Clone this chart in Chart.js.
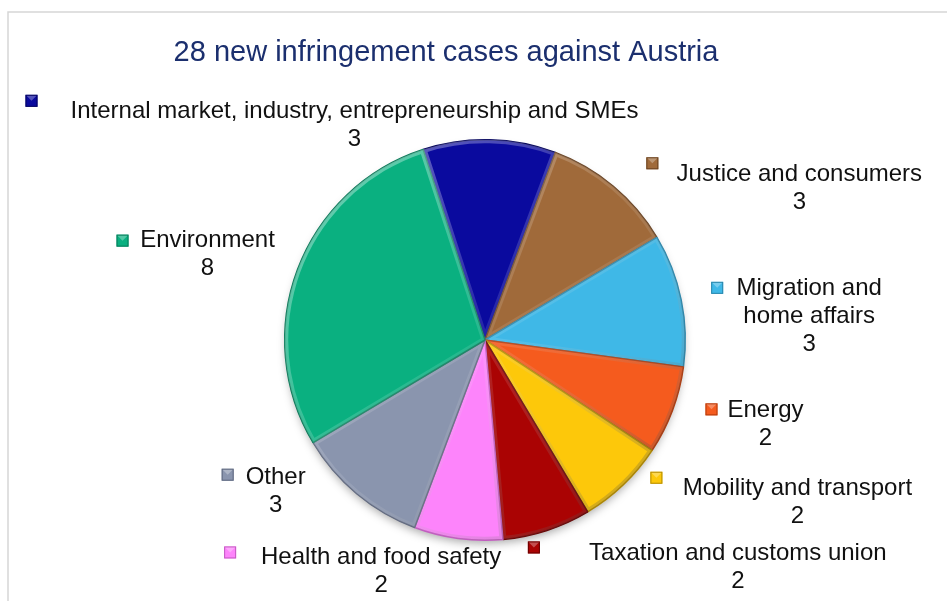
<!DOCTYPE html>
<html>
<head>
<meta charset="utf-8">
<title>Infringement cases</title>
<script src="https://cdn.jsdelivr.net/npm/chart.js@4.4.1/dist/chart.umd.min.js"></script>
<style>
    html, body { margin: 0; padding: 0; background: #ffffff; }
    #wrap { position: relative; width: 947px; height: 601px; }
</style>
</head>
<body>
<div id="wrap"><canvas id="ChartCasos" width="947" height="601"></canvas></div>
<script>
const titulo = '28 new infringement cases against Austria';

const categorias = [
    ['Internal market, industry, entrepreneurship and SMEs'],
    ['Justice and consumers'],
    ['Migration and', 'home affairs'],
    ['Energy'],
    ['Mobility and transport'],
    ['Taxation and customs union'],
    ['Health and food safety'],
    ['Other'],
    ['Environment']
];

const casos = [3, 3, 3, 2, 2, 2, 2, 3, 8];

const colores = ['#0a0a9e', '#a06a3a', '#3fb8e7', '#f55b1e', '#fdc80a', '#aa0303', '#fd84fb', '#8a95ae', '#0ab080'];
const bordes = ['#05055e', '#6a4322', '#2a86ab', '#b23c0e', '#b58c00', '#6a0000', '#c45ac2', '#5e677e', '#067a58'];

// where each label sits, measured from the outer middle of its slice; marker relative to the text
const posEtiquetas = [
    { dx: -135, dy: -28, mx: -323, my: -11 },
    { dx: 186, dy: -12, mx: -147, my: -11 },
    { dx: 128, dy: -11, mx: -92, my: -1 },
    { dx: 93, dy: 0, mx: -54, my: -1 },
    { dx: 174, dy: 4, mx: -141, my: -11 },
    { dx: 191, dy: 23, mx: -204, my: -6 },
    { dx: -77, dy: 19, mx: -151, my: -5 },
    { dx: -81, dy: -16, mx: -48, my: -3 },
    { dx: -90, dy: -29, mx: -85, my: 0 }
];

const fuente = '"Liberation Sans", Arial, sans-serif';

const marco = {
    id: 'marco',
    beforeDraw(chart) {
        const c = chart.ctx;
        c.save();
        c.fillStyle = '#ffffff';
        c.fillRect(0, 0, chart.width, chart.height);
        c.strokeStyle = '#d6d6d6';
        c.lineWidth = 1.5;
        c.beginPath();
        c.moveTo(8, chart.height + 2);
        c.lineTo(8, 12);
        c.lineTo(chart.width + 2, 12);
        c.stroke();

        c.fillStyle = '#1b2f6e';
        c.font = '29px ' + fuente;
        c.textAlign = 'center';
        c.textBaseline = 'middle';
        c.fillText(titulo, 446, 53);
        c.restore();
    },
    beforeDatasetsDraw(chart) {
        // soft shadow under the pie
        const arc = chart.getDatasetMeta(0).data[0];
        const c = chart.ctx;
        c.save();
        c.shadowColor = 'rgba(0,0,0,0.35)';
        c.shadowBlur = 10;
        c.shadowOffsetY = 5;
        c.fillStyle = '#ffffff';
        c.beginPath();
        c.arc(arc.x, arc.y, arc.outerRadius - 2, 0, Math.PI * 2);
        c.fill();
        c.restore();
    }
};

// light/dark inner edge on every slice for the bevel look
const bisel = {
    id: 'bisel',
    afterDatasetsDraw(chart) {
        const c = chart.ctx;
        chart.getDatasetMeta(0).data.forEach(arc => {
            const r = arc.outerRadius;
            c.save();
            c.beginPath();
            c.moveTo(arc.x, arc.y);
            c.arc(arc.x, arc.y, r, arc.startAngle, arc.endAngle);
            c.closePath();
            c.clip();
            const g = c.createLinearGradient(arc.x - r, arc.y - r, arc.x + r, arc.y + r);
            g.addColorStop(0, 'rgba(255,255,255,0.45)');
            g.addColorStop(0.5, 'rgba(255,255,255,0.1)');
            g.addColorStop(1, 'rgba(0,0,0,0.3)');
            c.strokeStyle = g;
            c.lineWidth = 7;
            c.lineJoin = 'round';
            c.stroke();
            c.restore();
        });
    }
};

const etiquetas = {
    id: 'etiquetas',
    afterDatasetsDraw(chart) {
        const c = chart.ctx;
        const arcs = chart.getDatasetMeta(0).data;
        c.save();
        c.font = '24px ' + fuente;
        c.textAlign = 'center';
        c.textBaseline = 'middle';
        arcs.forEach((arc, i) => {
            const medio = (arc.startAngle + arc.endAngle) / 2;
            const ax = arc.x + Math.cos(medio) * arc.outerRadius;
            const ay = arc.y + Math.sin(medio) * arc.outerRadius;
            const p = posEtiquetas[i];
            const tx = ax + p.dx;
            const ty = ay + p.dy;
            const lineas = categorias[i].concat([String(casos[i])]);
            c.fillStyle = '#111111';
            lineas.forEach((linea, k) => {
                c.fillText(linea, tx, ty + k * 28);
            });

            // small bevelled legend key
            const mx = tx + p.mx - 6;
            const my = ty + p.my - 6;
            c.fillStyle = colores[i];
            c.fillRect(mx, my, 12, 12);
            c.fillStyle = 'rgba(255,255,255,0.3)';
            c.beginPath();
            c.moveTo(mx, my);
            c.lineTo(mx + 12, my);
            c.lineTo(mx + 6, my + 6);
            c.closePath();
            c.fill();
            c.strokeStyle = bordes[i];
            c.lineWidth = 1;
            c.strokeRect(mx + 0.5, my + 0.5, 11, 11);
        });
        c.restore();
    }
};

const ctx = document.getElementById('ChartCasos');

const chart = new Chart(ctx, {
    type: 'pie',
    data: {
        labels: categorias.map(l => l.join(' ')),
        datasets: [{
            data: casos,
            backgroundColor: colores,
            borderColor: bordes,
            borderWidth: 1.5
        }]
    },
    options: {
        responsive: false,
        animation: false,
        rotation: -18,
        layout: {
            padding: { left: 123, right: 100, top: 139, bottom: 60 }
        },
        plugins: {
            legend: { display: false },
            title: { display: false },
            tooltip: { enabled: false }
        }
    },
    plugins: [marco, bisel, etiquetas]
});
</script>
</body>
</html>
